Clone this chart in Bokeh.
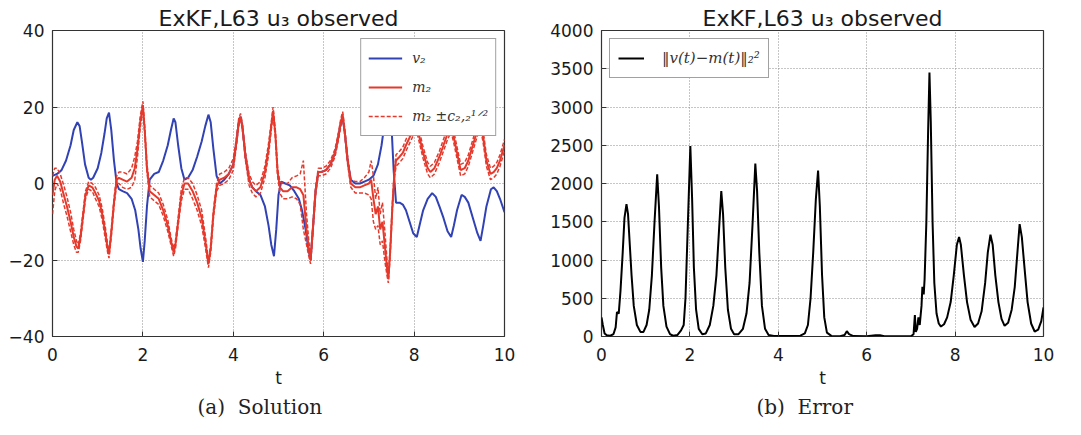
from bokeh.plotting import figure
from bokeh.layouts import row
from bokeh.models import Legend, LegendItem, Title, Range1d, FixedTicker
from bokeh.embed import file_html
from bokeh.resources import INLINE

# ---------------- data ----------------
v2_t = [0.00, 0.10, 0.20, 0.30, 0.40, 0.47, 0.55, 0.60, 0.65, 0.72,
        0.80, 0.85, 0.90, 1.00, 1.08, 1.15, 1.20, 1.25, 1.30, 1.36,
        1.42, 1.47, 1.55, 1.65, 1.75, 1.83, 1.90, 1.95, 2.00, 2.04,
        2.09, 2.15, 2.25, 2.35, 2.45, 2.55, 2.62, 2.68, 2.72, 2.78,
        2.85, 2.92, 3.00, 3.10, 3.20, 3.30, 3.38, 3.45, 3.50, 3.56,
        3.63, 3.70, 3.80, 3.90, 4.00, 4.07, 4.12, 4.16, 4.20, 4.27,
        4.35, 4.42, 4.50, 4.60, 4.70, 4.78, 4.84, 4.90, 4.95, 5.00,
        5.06, 5.15, 5.25, 5.35, 5.45, 5.52, 5.60, 5.66, 5.71, 5.76,
        5.82, 5.88, 5.95, 6.05, 6.15, 6.25, 6.32, 6.38, 6.42, 6.47,
        6.53, 6.60, 6.70, 6.80, 6.90, 7.00, 7.10, 7.20, 7.28, 7.35,
        7.40, 7.45, 7.50, 7.55, 7.60, 7.68, 7.75, 7.82, 7.90, 7.98,
        8.06, 8.12, 8.20, 8.30, 8.40, 8.48, 8.56, 8.65, 8.74, 8.82,
        8.88, 8.95, 9.05, 9.12, 9.20, 9.30, 9.40, 9.47, 9.53, 9.60,
        9.70, 9.76, 9.83, 9.90, 10.00]
v2_val = [2, 2.5, 3.5, 6, 10, 14, 16, 15, 11, 5,
          1.5, 1, 1.5, 4, 8, 13, 17, 18.5, 14, 6,
          0, -1.5, -2, -2.5, -4, -7, -12, -17, -20.5, -15,
          -6, 1, 2.5, 3, 6, 10, 14, 17, 16, 10,
          4, 1, 1.5, 3.5, 7, 11, 15, 18, 16, 9,
          2, 0, 1, 2.5, 5, 11, 16, 17.5, 15, 7,
          1, -1, -2, -3, -6, -11, -16, -19, -12, -3,
          0.5, 0, -0.5, -2, -4, -7, -12, -17, -20, -12,
          -2, 3, 3, 3.5, 5, 8, 12, 16, 17, 13,
          6, 1, 0, 0, 0.5, 1, 2, 5, 10, 16,
          21, 24, 15, 3, -5, -5, -5.5, -7, -10, -13,
          -14, -11, -7, -4, -2.5, -3.5, -6, -9, -12.5, -14,
          -11, -7, -3, -3.5, -5, -9, -13, -15, -11, -6,
          -1.5, -1, -2, -4, -7.5]

m2_t = [0.00, 0.05, 0.10, 0.17, 0.25, 0.32, 0.40, 0.47, 0.53, 0.57,
        0.62, 0.67, 0.73, 0.80, 0.88, 0.95, 1.03, 1.10, 1.17, 1.22,
        1.25, 1.30, 1.36, 1.42, 1.47, 1.55, 1.65, 1.75, 1.82, 1.88,
        1.94, 2.00, 2.04, 2.09, 2.15, 2.25, 2.35, 2.45, 2.55, 2.62,
        2.68, 2.72, 2.78, 2.85, 2.92, 3.00, 3.10, 3.20, 3.30, 3.38,
        3.45, 3.50, 3.56, 3.63, 3.70, 3.80, 3.90, 4.00, 4.07, 4.12,
        4.16, 4.20, 4.27, 4.35, 4.42, 4.50, 4.60, 4.70, 4.78, 4.84,
        4.88, 4.93, 4.98, 5.03, 5.10, 5.20, 5.30, 5.40, 5.48, 5.55,
        5.62, 5.67, 5.71, 5.76, 5.82, 5.88, 5.95, 6.05, 6.15, 6.25,
        6.32, 6.38, 6.42, 6.47, 6.53, 6.60, 6.70, 6.80, 6.90, 7.00,
        7.05, 7.10, 7.15, 7.20, 7.25, 7.30, 7.35, 7.40, 7.43, 7.47,
        7.52, 7.56, 7.60, 7.68, 7.75, 7.82, 7.90, 7.98, 8.06, 8.12,
        8.20, 8.30, 8.36, 8.45, 8.56, 8.65, 8.74, 8.82, 8.88, 8.95,
        9.03, 9.12, 9.20, 9.30, 9.40, 9.47, 9.53, 9.60, 9.69, 9.76,
        9.83, 9.90, 10.00]
m2_val = [-3, 1, 2, 0.5, -3, -6, -10, -14, -16.5, -17,
          -14, -9, -3, -0.5, -1, -2.5, -4.5, -8, -13, -17,
          -18.5, -13, -5, 1, 1.5, 1, 0.5, 1.5, 4, 9,
          16, 20.5, 14, 4, -2, -3, -4, -7, -11, -15,
          -18, -16, -10, -3, 0, 0, -2, -5, -9, -15,
          -21, -17, -8, -1, 1, 1.5, 2.5, 5, 11, 16,
          17.5, 15, 7, 1, -1, -2, -1, 3, 9, 15,
          19, 13, 3, -1, -2, -2, -1, -1, -1.5, -3,
          -12, -17, -20, -12, -2, 3, 3, 3.5, 5, 8,
          12, 16, 18, 13, 6, 0, -1, -1, -0.5, 0,
          1, -4, -8, -6, -12, -10, -16, -22, -25, -18,
          -6, 2, 6, 7, 8, 10, 12, 14, 15, 12,
          8, 4, 3, 4, 7, 10, 13, 15, 12, 8,
          3.5, 4, 6, 10, 14, 16, 12, 6, 2.5, 3,
          4, 6, 10]
# square root of the variance c_{2,2}
c22_sqrt = [5, 3, 2, 2, 2.5, 2.5, 2.5, 2, 1.5, 1,
            1, 1, 1, 1, 1, 1.5, 1.5, 1.5, 1.5, 1,
            1, 1, 1, 1, 1.5, 2, 2, 2.5, 3, 2,
            1.5, 1, 1, 1, 1.5, 1.5, 1.5, 1.5, 1.5, 1,
            1, 1, 1, 1.5, 1.5, 1.5, 2, 2, 2, 1.5,
            1, 1, 1, 1, 1.5, 1.5, 1.5, 1.5, 1, 1,
            0.8, 0.8, 1, 1.5, 1.5, 1.5, 1.5, 1.5, 1.5, 1,
            1, 1, 1, 1.5, 2, 2, 2.5, 3, 4, 9,
            4, 2, 1, 1, 1, 1, 1, 1, 1, 1,
            1, 1, 0.8, 0.8, 1, 1, 1.5, 1.5, 2, 3,
            5, 6, 4, 5, 4, 5, 4, 2, 1, 1,
            1, 1, 1.5, 1.5, 1.5, 1.5, 1.5, 1.5, 1.5, 1.5,
            1.5, 1.5, 1.5, 1.5, 1.5, 1.5, 1.5, 1.5, 1.5, 1.5,
            1.5, 1.5, 1.5, 1.5, 1.5, 1.5, 1.5, 1.5, 1.5, 1.5,
            1.5, 1.5, 1.5]

err_t = [0.00, 0.03, 0.07, 0.12, 0.20, 0.27, 0.32, 0.35, 0.39, 0.43,
         0.48, 0.52, 0.565, 0.60, 0.64, 0.68, 0.73, 0.80, 0.88, 0.95,
         1.02, 1.08, 1.14, 1.20, 1.26, 1.30, 1.35, 1.40, 1.47, 1.55,
         1.62, 1.72, 1.80, 1.86, 1.90, 1.95, 2.01, 2.05, 2.09, 2.14,
         2.20, 2.28, 2.36, 2.45, 2.53, 2.60, 2.66, 2.71, 2.75, 2.80,
         2.86, 2.93, 3.00, 3.10, 3.20, 3.28, 3.35, 3.42, 3.48, 3.52,
         3.57, 3.63, 3.70, 3.78, 3.90, 4.20, 4.50, 4.60, 4.67, 4.73,
         4.79, 4.85, 4.90, 4.94, 4.99, 5.04, 5.10, 5.20, 5.40, 5.50,
         5.55, 5.60, 5.70, 6.00, 6.20, 6.30, 6.40, 7.00, 7.06, 7.09,
         7.11, 7.14, 7.17, 7.20, 7.24, 7.26, 7.29, 7.31, 7.35, 7.39,
         7.42, 7.45, 7.49, 7.53, 7.58, 7.63, 7.68, 7.75, 7.82, 7.90,
         7.97, 8.04, 8.09, 8.13, 8.20, 8.27, 8.35, 8.44, 8.52, 8.60,
         8.68, 8.74, 8.80, 8.85, 8.91, 8.98, 9.05, 9.12, 9.20, 9.28,
         9.35, 9.41, 9.46, 9.51, 9.57, 9.64, 9.72, 9.80, 9.88, 9.95,
         10.00]
err_val = [250, 150, 40, 15, 10, 30, 120, 320, 300, 600,
           1100, 1550, 1730, 1600, 1200, 800, 400, 150, 60, 60,
           150, 350, 800, 1500, 2120, 1700, 900, 400, 130, 30,
           10, 20, 80, 150, 500, 1400, 2490, 1800, 900, 350,
           100, 30, 40, 150, 400, 800, 1400, 1900, 1600, 900,
           350, 100, 30, 30, 100, 300, 700, 1500, 2260, 1900,
           1100, 400, 100, 20, 8, 5, 10, 40, 150, 500,
           1100, 1800, 2170, 1700, 800, 250, 50, 8, 3, 20,
           70, 30, 5, 3, 15, 15, 3, 3, 30, 280,
           60, 100, 250, 150, 400, 650, 550, 750, 1500, 2700,
           3450, 2800, 1500, 700, 300, 170, 130, 160, 250, 450,
           800, 1200, 1300, 1200, 800, 450, 220, 125, 170, 330,
           700, 1100, 1330, 1200, 800, 450, 230, 140, 180, 350,
           650, 1100, 1470, 1300, 900, 450, 170, 65, 90, 200,
           380]

x_ticks = [0, 2, 4, 6, 8, 10]
y1_ticks = [-40, -20, 0, 20, 40]
y2_ticks = [0, 500, 1000, 1500, 2000, 2500, 3000, 3500, 4000]

title_text = "ExKF,L63 u\u2083 observed"
caption_a = "(a)\u00a0\u00a0Solution"
caption_b = "(b)\u00a0\u00a0Error"

BLUE = "#3142b5"
RED = "#e5392c"
TICK_FONT = "DejaVu Sans"


def style(p, yticks, caption, cap_offset):
    p.title.text = title_text
    p.title.text_font = TICK_FONT
    p.title.text_font_size = "22px"
    p.title.text_font_style = "normal"
    p.title.align = "center"
    p.title.text_color = "#1a1a1a"
    p.title.standoff = 0
    p.outline_line_color = "#333333"
    p.outline_line_width = 1.2
    for ax in p.axis:
        ax.axis_line_color = None
        ax.major_tick_in = 5
        ax.major_tick_out = 0
        ax.minor_tick_line_color = None
        ax.major_tick_line_color = "#333333"
        ax.major_label_text_font = TICK_FONT
        ax.major_label_text_font_size = "17px"
        ax.major_label_text_color = "#1a1a1a"
    p.xaxis.ticker = FixedTicker(ticks=x_ticks)
    p.yaxis.ticker = FixedTicker(ticks=yticks)
    p.xaxis.axis_label = "t"
    p.xaxis.axis_label_text_font = TICK_FONT
    p.xaxis.axis_label_text_font_size = "17px"
    p.xaxis.axis_label_text_font_style = "normal"
    p.xaxis.axis_label_text_color = "#1a1a1a"
    p.xaxis.axis_label_standoff = 4
    p.xaxis.major_label_standoff = 11
    p.yaxis.major_label_standoff = 8
    for g in (p.xgrid, p.ygrid):
        g.grid_line_color = "#8c8c8c"
        g.grid_line_dash = "1 2"
        g.grid_line_width = 1
    cap = Title(text=caption, align="left", offset=cap_offset, text_font="DejaVu Serif",
                text_font_size="20px", text_font_style="normal",
                text_color="#222222", standoff=4)
    p.add_layout(cap, "below")


# ---------------- panel (a) ----------------
p1 = figure(frame_width=452, frame_height=306, output_backend="svg",
            toolbar_location=None, x_range=Range1d(0, 10), y_range=Range1d(-40, 40),
            min_border_left=52, min_border_right=30, min_border_top=30,
            min_border_bottom=60, background_fill_color="white")
style(p1, y1_ticks, caption_a, 145)

upper = [m + s for m, s in zip(m2_val, c22_sqrt)]
lower = [m - s for m, s in zip(m2_val, c22_sqrt)]

r_v = p1.line(v2_t, v2_val, line_color=BLUE, line_width=2)
r_m = p1.line(m2_t, m2_val, line_color=RED, line_width=2)
r_u = p1.line(m2_t, upper, line_color=RED, line_width=1.5, line_dash="4 2")
r_l = p1.line(m2_t, lower, line_color=RED, line_width=1.5, line_dash="4 2")

leg1 = Legend(items=[LegendItem(label="v\u2082", renderers=[r_v]),
                     LegendItem(label="m\u2082", renderers=[r_m]),
                     LegendItem(label="m\u2082 \u00b1c\u2082,\u2082\u00b9\u141f\u00b2", renderers=[r_u])],
              location="top_right", margin=8, padding=7, spacing=5,
              glyph_width=34, glyph_height=24, label_height=24, label_standoff=10,
              label_text_font="DejaVu Serif", label_text_font_style="italic",
              label_text_font_size="14px", label_text_color="#333333",
              border_line_color="#444444", border_line_width=1.3,
              background_fill_alpha=1.0)
p1.add_layout(leg1, "center")

# ---------------- panel (b) ----------------
p2 = figure(frame_width=442, frame_height=306, output_backend="svg",
            toolbar_location=None, x_range=Range1d(0, 10), y_range=Range1d(0, 4000),
            min_border_left=67, min_border_right=15, min_border_top=30,
            min_border_bottom=60, background_fill_color="white")
style(p2, y2_ticks, caption_b, 155)

r_e = p2.line(err_t, err_val, line_color="black", line_width=2)
leg2 = Legend(items=[LegendItem(label="\u2016v(t)\u2212m(t)\u2016\u2082\u00b2", renderers=[r_e])],
              location="top_left", margin=8, padding=8, spacing=0,
              glyph_width=26, glyph_height=22, label_height=22, label_standoff=18,
              label_text_font="DejaVu Serif", label_text_font_style="italic",
              label_text_font_size="15px", label_text_color="#333333",
              border_line_color="#444444", border_line_width=1.3,
              background_fill_alpha=1.0)
p2.add_layout(leg2, "center")

layout = row(p1, p2)
open("out.html", "w").write(file_html(layout, INLINE))
